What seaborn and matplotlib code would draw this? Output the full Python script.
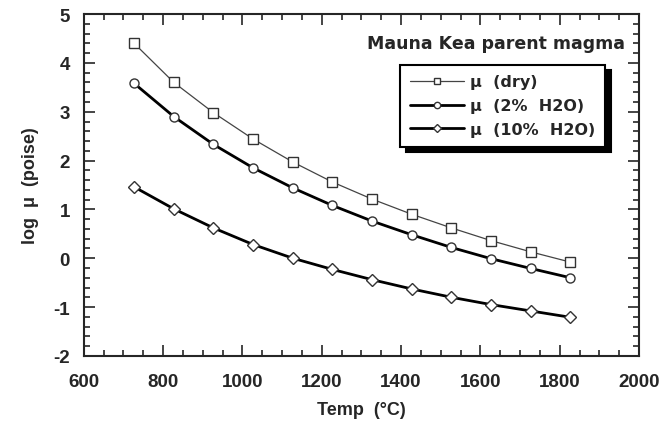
import pandas as pd
import matplotlib
matplotlib.use("Agg")
import matplotlib.pyplot as plt
from matplotlib.ticker import MultipleLocator
import seaborn as sns
import numpy as np

# temperatures (deg C) and log viscosity for each water content
temp = [727, 827, 927, 1027, 1127, 1227, 1327, 1427, 1527, 1627, 1727, 1827]
mu_dry = [4.40, 3.60, 2.98, 2.44, 1.97, 1.56, 1.21, 0.90, 0.62, 0.36, 0.13, -0.08]
mu_2 = [3.58, 2.90, 2.33, 1.85, 1.44, 1.08, 0.76, 0.48, 0.22, -0.01, -0.21, -0.40]
mu_10 = [1.46, 1.01, 0.62, 0.28, 0.00, -0.23, -0.44, -0.63, -0.80, -0.95, -1.08, -1.21]
labels = ["\u03bc  (dry)", "\u03bc  (2%  H2O)", "\u03bc  (10%  H2O)"]

df = pd.DataFrame({
    "temp": temp * 3,
    "logmu": mu_dry + mu_2 + mu_10,
    "series": [labels[0]] * 12 + [labels[1]] * 12 + [labels[2]] * 12,
})

sns.set_style("ticks")
plt.rcParams["font.family"] = ["Liberation Sans", "DejaVu Sans"]
plt.rcParams["font.weight"] = "bold"
plt.rcParams["axes.unicode_minus"] = False

fig = plt.figure(figsize=(6.65, 4.31), dpi=100)
ax = fig.add_axes([0.126, 0.172, 0.835, 0.793])

styles = {
    labels[0]: dict(marker="s", lw=0.9, color="#444444", ms=7),
    labels[1]: dict(marker="o", lw=2.0, color="black", ms=6.5),
    labels[2]: dict(marker="D", lw=2.0, color="black", ms=6.5),
}
for lab in labels:
    st = styles[lab]
    sns.lineplot(data=df[df.series == lab], x="temp", y="logmu", ax=ax,
                 label=lab, marker=st["marker"], linewidth=st["lw"],
                 color=st["color"], markersize=st["ms"],
                 markerfacecolor="white", markeredgecolor="#333333",
                 markeredgewidth=1.0)

ax.set_xlim(600, 2000)
ax.set_ylim(-2, 5)
ax.xaxis.set_major_locator(MultipleLocator(200))
ax.xaxis.set_minor_locator(MultipleLocator(50))
ax.yaxis.set_major_locator(MultipleLocator(1))
ax.yaxis.set_minor_locator(MultipleLocator(0.2))
ax.tick_params(which="both", direction="in", top=True, right=True, width=1.2)
ax.tick_params(which="major", length=8, labelsize=13.5)
ax.tick_params(axis="x", which="major", pad=12)
ax.tick_params(axis="y", which="major", pad=10)
ax.tick_params(which="minor", length=4)
for s in ax.spines.values():
    s.set_linewidth(1.5)
for t in ax.get_xticklabels() + ax.get_yticklabels():
    t.set_fontweight("bold")

ax.set_xlabel("Temp  (\u00b0C)", fontsize=13, fontweight="bold", labelpad=8)
ax.set_ylabel("log  \u03bc  (poise)", fontsize=13, fontweight="bold", labelpad=10)

ax.text(0.975, 0.915, "Mauna Kea parent magma", transform=ax.transAxes,
        ha="right", va="center", fontsize=12.5, fontweight="bold",
        family="DejaVu Sans")

leg = ax.legend(loc="upper left", bbox_to_anchor=(0.555, 0.875), frameon=True,
                fancybox=False, edgecolor="black",
                prop={"family": "DejaVu Sans", "weight": "bold", "size": 11.5},
                shadow={"color": "black", "alpha": 1, "ox": 4, "oy": -4},
                borderpad=0.6, labelspacing=0.55, handlelength=3.4,
                handletextpad=0.4, markerscale=0.7)
leg.get_frame().set_linewidth(1.5)

fig.savefig("out.png", dpi=100)
